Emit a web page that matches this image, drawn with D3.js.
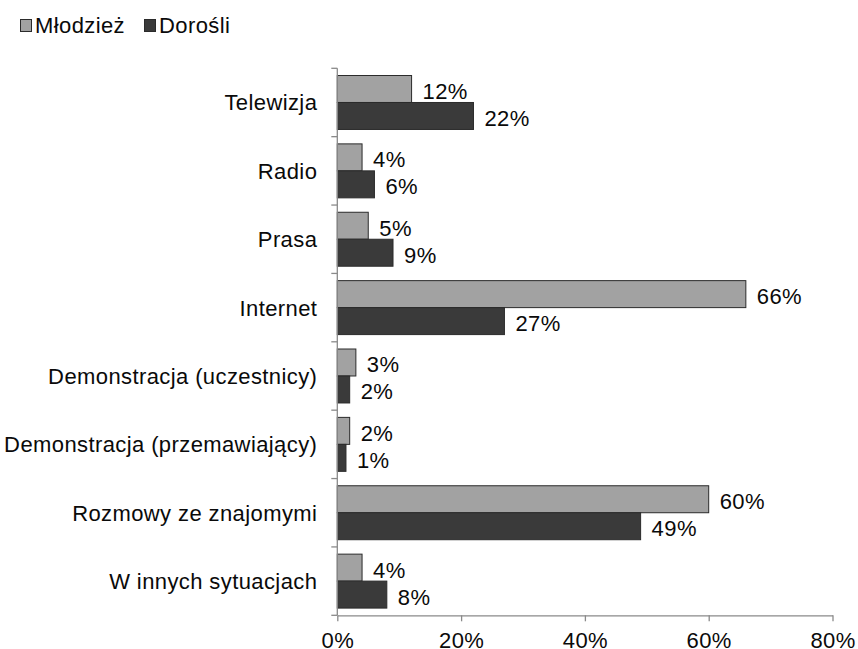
<!DOCTYPE html>
<html>
<head>
<meta charset="utf-8">
<script src="https://cdn.jsdelivr.net/npm/d3@7"></script>
<style>
  body { margin: 0; background: #fff; }
  svg { font-family: "Liberation Sans", Arial, sans-serif; }
  text { letter-spacing: 0.4px; }
</style>
</head>
<body>
<svg id="chart" width="858" height="649"></svg>
<script>
const categories = ["Telewizja", "Radio", "Prasa", "Internet", "Demonstracja (uczestnicy)",
  "Demonstracja (przemawiający)", "Rozmowy ze znajomymi", "W innych sytuacjach"];
const series = ["Młodzież", "Dorośli"];
const mlodziez = [0.12, 0.04, 0.05, 0.66, 0.03, 0.02, 0.60, 0.04];
const dorosli = [0.22, 0.06, 0.09, 0.27, 0.02, 0.014, 0.49, 0.08];
const xTicks = [0, 0.2, 0.4, 0.6, 0.8];
const colors = ["#a2a2a2", "#3a3a3a"];

const values = [mlodziez, dorosli];
const rows = categories.map((c, i) => ({
  cat: c,
  vals: series.map((s, j) => ({ s: s, j: j, v: values[j][i] }))
}));

const svg = d3.select("#chart");
const plotLeft = 337.3, plotRight = 832.5, plotTop = 68.3, plotBottom = 615.3;
const fontSize = "22px";

const x = d3.scaleLinear().domain([0, 0.8]).range([plotLeft, plotRight]);
const y0 = d3.scaleBand().domain(categories).range([plotTop, plotBottom]).padding(0);
const y1 = d3.scaleBand().domain(series).range([0, y0.bandwidth()])
  .paddingInner(0).paddingOuter(0.267);

// bars
const groups = svg.selectAll(".group")
  .data(rows)
  .enter().append("g")
  .attr("class", "group")
  .attr("transform", d => `translate(0, ${y0(d.cat)})`);

groups.selectAll("rect")
  .data(d => d.vals)
  .enter().append("rect")
  .attr("x", x(0))
  .attr("y", d => y1(d.s))
  .attr("width", d => x(d.v) - x(0))
  .attr("height", y1.bandwidth())
  .attr("fill", d => colors[d.j])
  .attr("stroke", "#2b2b2b")
  .attr("stroke-width", 1);

groups.selectAll(".val")
  .data(d => d.vals)
  .enter().append("text")
  .attr("class", "val")
  .attr("x", d => x(d.v) + 11)
  .attr("y", d => y1(d.s) + y1.bandwidth() / 2 + 10)
  .attr("font-size", fontSize)
  .attr("fill", "#0a0a0a")
  .text(d => d3.format(".0%")(d.v));

// left axis: line + ticks at band boundaries
const axisColor = "#8a8a8a";
svg.append("line")
  .attr("x1", plotLeft).attr("x2", plotLeft)
  .attr("y1", plotTop).attr("y2", plotBottom)
  .attr("stroke", axisColor).attr("stroke-width", 1.3);

const bounds = categories.map(c => y0(c)).concat([plotBottom]);
svg.selectAll(".ytick")
  .data(bounds)
  .enter().append("line")
  .attr("x1", plotLeft - 6).attr("x2", plotLeft)
  .attr("y1", d => d).attr("y2", d => d)
  .attr("stroke", axisColor).attr("stroke-width", 1.3);

svg.selectAll(".catlabel")
  .data(categories)
  .enter().append("text")
  .attr("x", plotLeft - 20)
  .attr("y", d => y0(d) + y0.bandwidth() / 2 + 8)
  .attr("text-anchor", "end")
  .attr("font-size", fontSize)
  .attr("fill", "#0a0a0a")
  .text(d => d);

// bottom axis
const xAxis = d3.axisBottom(x).tickValues(xTicks)
  .tickFormat(d3.format(".0%")).tickSizeOuter(0).tickSizeInner(6).tickPadding(11);

const gx = svg.append("g")
  .attr("transform", `translate(0, ${plotBottom})`)
  .call(xAxis);
gx.select(".domain").attr("stroke", axisColor).attr("stroke-width", 1.3);
gx.selectAll(".tick line").attr("stroke", axisColor).attr("stroke-width", 1.3);
gx.selectAll(".tick text")
  .attr("font-size", fontSize)
  .attr("font-family", "Liberation Sans, Arial, sans-serif")
  .attr("fill", "#0a0a0a");

// legend
const legend = svg.append("g");
const legX = [20, 144];
series.forEach((s, j) => {
  legend.append("rect")
    .attr("x", legX[j] + 0.5).attr("y", 19.5)
    .attr("width", 11).attr("height", 12)
    .attr("fill", colors[j])
    .attr("stroke", "#2b2b2b").attr("stroke-width", 1);
  legend.append("text")
    .attr("x", legX[j] + 15)
    .attr("y", 33)
    .attr("font-size", fontSize)
    .attr("fill", "#0a0a0a")
    .text(s);
});
</script>
</body>
</html>
